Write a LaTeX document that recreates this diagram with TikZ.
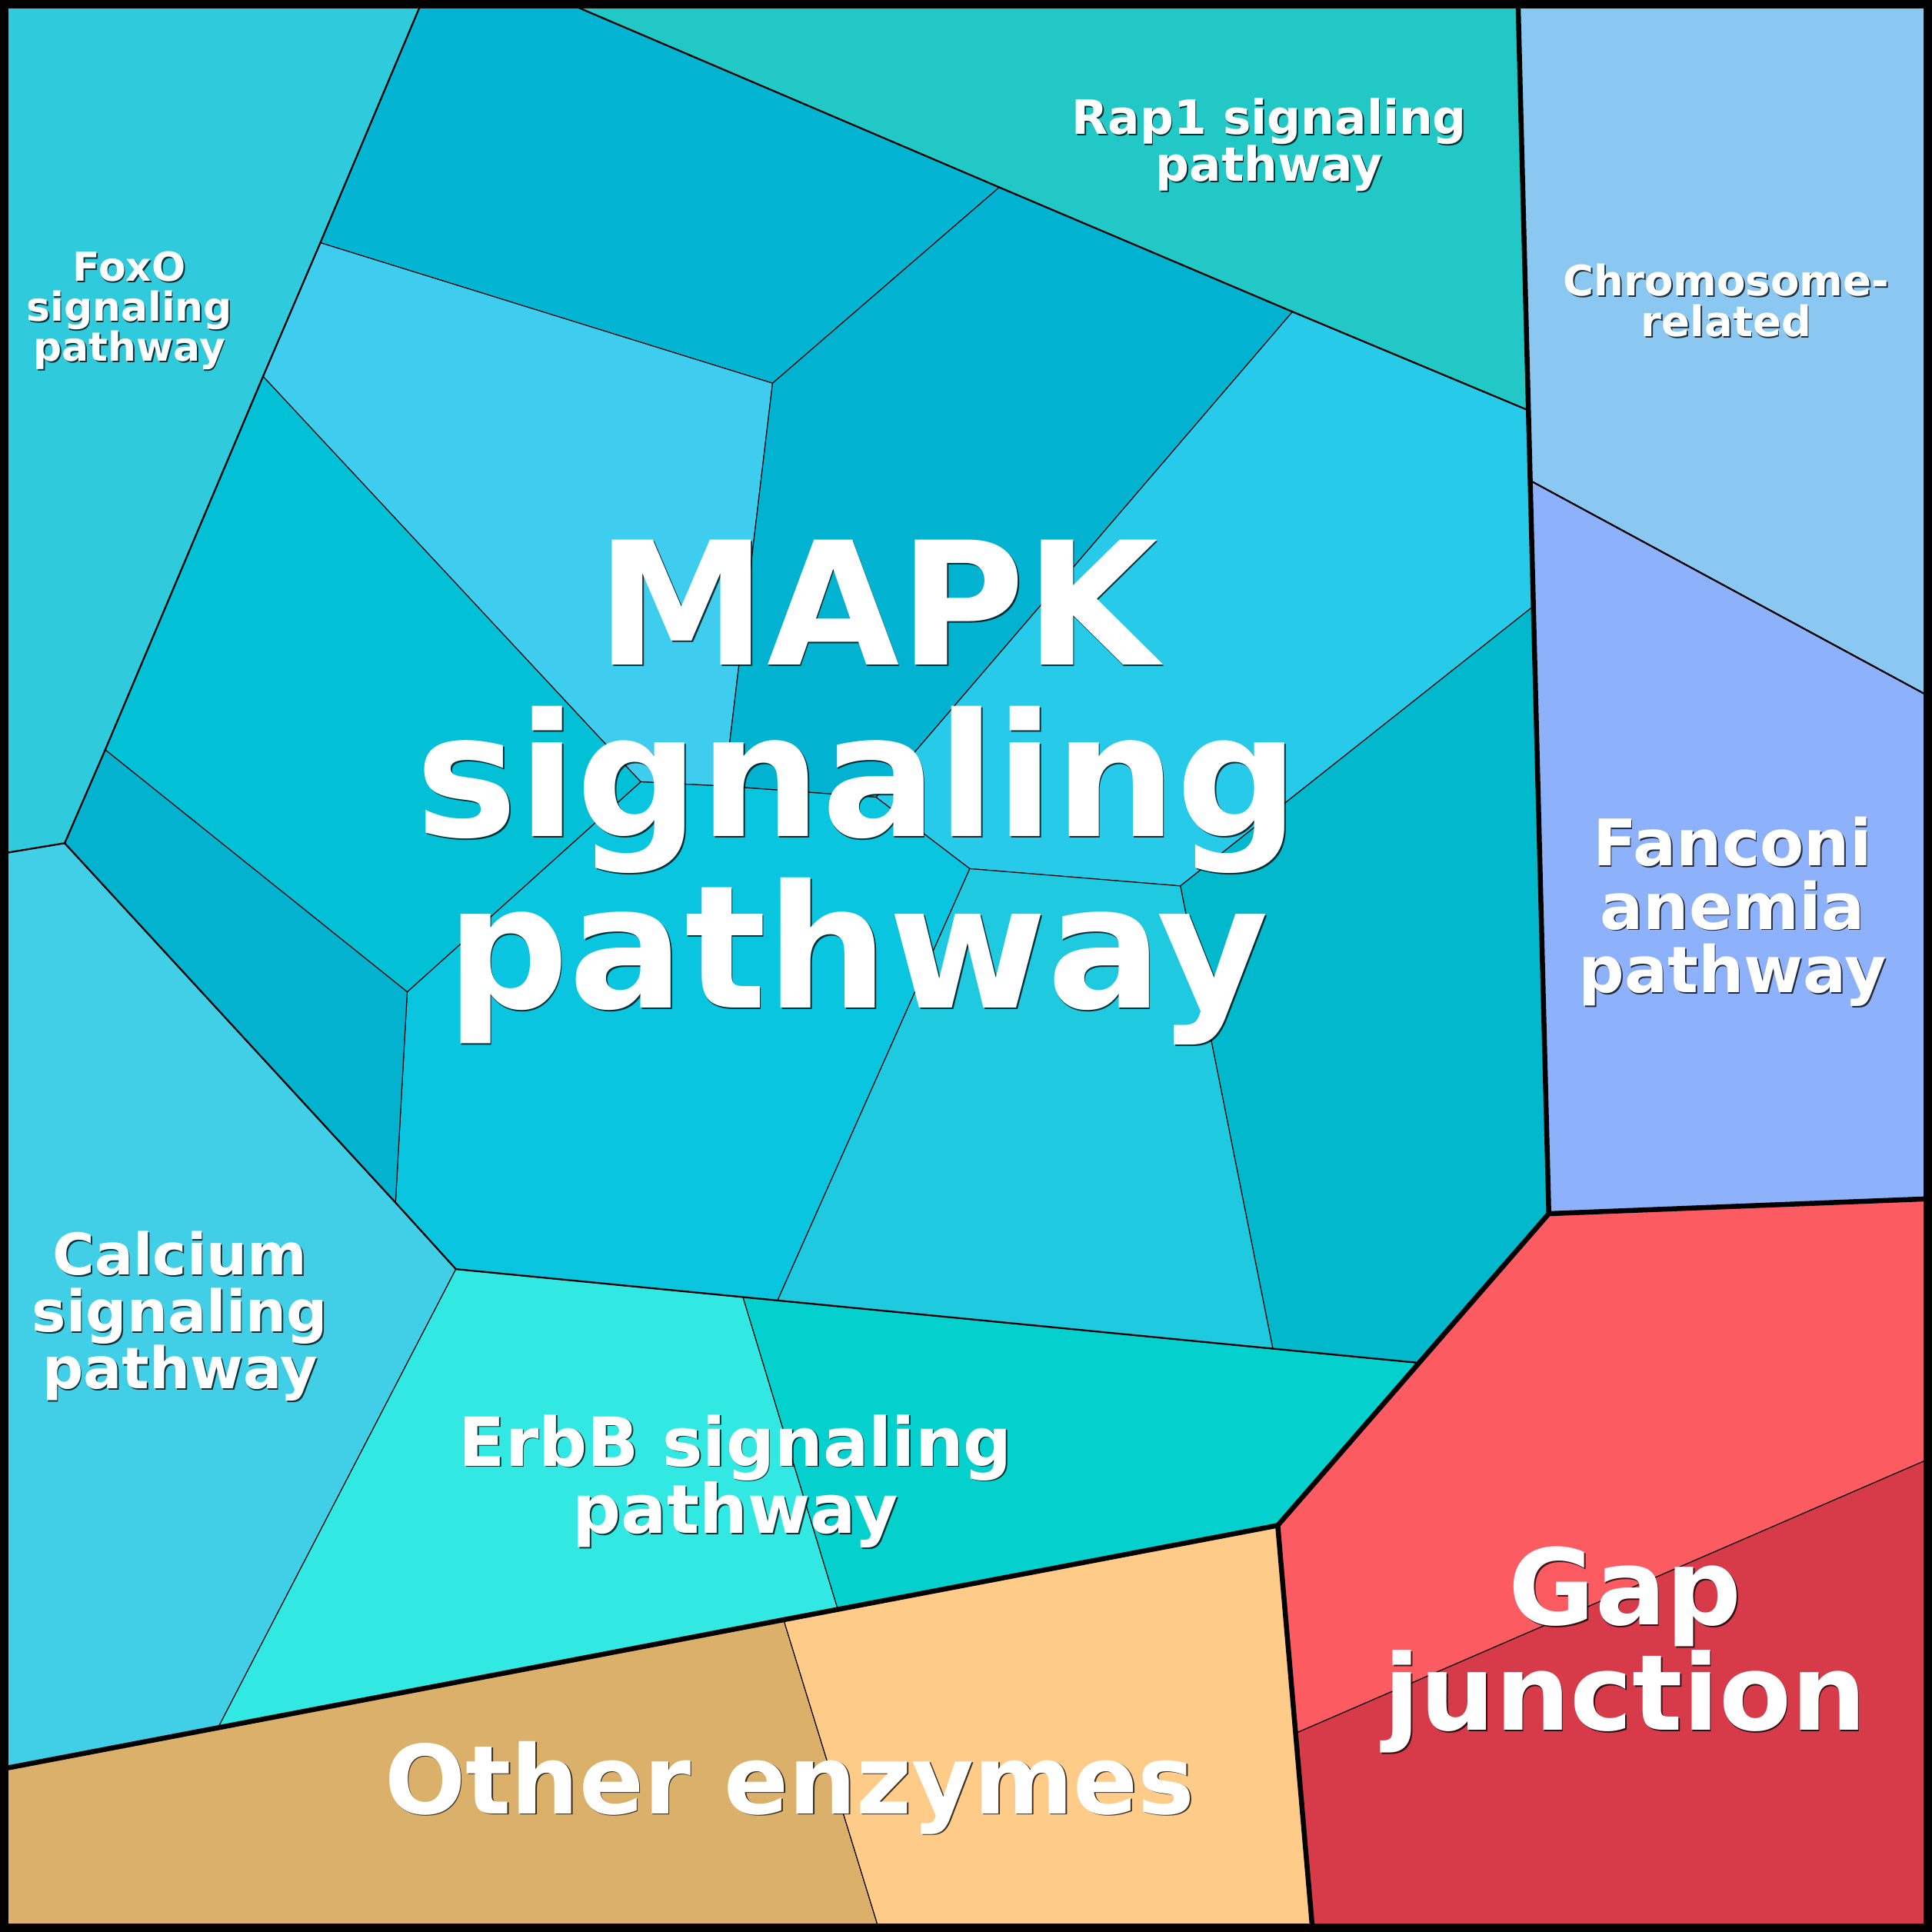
\documentclass[tikz,border=0pt]{standalone}
\usepackage{fontspec}
\setsansfont{DejaVu Sans}

\definecolor{foxo}{HTML}{2FCBDC}
\definecolor{rapone}{HTML}{21C8C6}
\definecolor{chromo}{HTML}{8AC8F2}
\definecolor{fanconi}{HTML}{8EB1FB}
\definecolor{calcium}{HTML}{40CFE6}
\definecolor{erbbA}{HTML}{32E8E2}
\definecolor{erbbB}{HTML}{04D0CD}
\definecolor{gapA}{HTML}{FD5B62}
\definecolor{gapB}{HTML}{D73B49}
\definecolor{enzA}{HTML}{DBB06B}
\definecolor{enzB}{HTML}{FFCB88}
\definecolor{mapkA}{HTML}{03B5D2}
\definecolor{mapkB}{HTML}{3ECDEF}
\definecolor{mapkC}{HTML}{02B2D1}
\definecolor{mapkD}{HTML}{27CBE9}
\definecolor{mapkE}{HTML}{01B8CD}
\definecolor{mapkF}{HTML}{1FC9DF}
\definecolor{mapkG}{HTML}{09C5DF}
\definecolor{mapkH}{HTML}{02C0D5}
\definecolor{mapkI}{HTML}{02B2CF}

\begin{document}
\begin{tikzpicture}[x=0.01cm, y=-0.01cm,
    cell/.style={draw=black, line width=0.2pt, line join=round},
    subedge/.style={draw=black, line width=0.4pt, line join=round},
    groupedge/.style={draw=black, line width=1.15pt, line join=round},
    lbl/.style={inner sep=0pt, align=center, text=white}]
    \useasboundingbox (0,0) rectangle (1568,1568);

    % corners
    \coordinate (tl) at (0,0);
    \coordinate (tr) at (1568,0);
    \coordinate (br) at (1568,1568);
    \coordinate (bl) at (0,1568);
    % FoxO / MAPK edge
    \coordinate (f1) at (343,0);
    \coordinate (f2) at (260,197);
    \coordinate (f3) at (213.5,305.5);
    \coordinate (f4) at (85.4,608.5);
    \coordinate (f5) at (52.5,684.3);
    \coordinate (f6) at (0,693);
    % Rap1 / MAPK edge
    \coordinate (r1) at (455,0);
    \coordinate (r2) at (811,152);
    \coordinate (r3) at (1049,253);
    \coordinate (r4) at (1240.4,333);
    % right group edge
    \coordinate (t3) at (1232,0);
    \coordinate (c1) at (1241.9,390);
    \coordinate (c2) at (1568,566.4);
    \coordinate (b1) at (1244.5,492);
    \coordinate (g1) at (1257,985);
    \coordinate (g2) at (1568,972.8);
    \coordinate (g3) at (1568,1183);
    \coordinate (g4) at (1051.5,1406.7);
    \coordinate (g0) at (1037,1238);
    \coordinate (g5) at (1065.4,1568);
    % bottom group edge
    \coordinate (o1) at (0,1436);
    \coordinate (o2) at (177,1402.2);
    \coordinate (o3) at (636,1314.6);
    \coordinate (o4) at (680,1306.2);
    \coordinate (o5) at (714,1568);
    % Calcium / ErbB / MAPK
    \coordinate (k1) at (321,976);
    \coordinate (k2) at (370,1030);
    \coordinate (e1) at (603,1052.7);
    \coordinate (e2) at (631,1055.4);
    \coordinate (e3) at (1033,1094.6);
    \coordinate (e4) at (1151.7,1106.1);
    % inside MAPK
    \coordinate (m1) at (627,311);
    \coordinate (m2) at (588,638);
    \coordinate (m3) at (520,634.5);
    \coordinate (m4) at (711,647);
    \coordinate (m5) at (787,705);
    \coordinate (m6) at (958,719);
    \coordinate (m7) at (330.5,805);

    % pathways
    \path[cell, fill=foxo] (tl) -- (f1) -- (f2) -- (f3) -- (f4) -- (f5) -- (f6) -- cycle;
    \path[cell, fill=rapone] (r1) -- (t3) -- (r4) -- (r3) -- (r2) -- cycle;
    \path[cell, fill=chromo] (t3) -- (tr) -- (c2) -- (c1) -- (r4) -- cycle;
    \path[cell, fill=fanconi] (c1) -- (c2) -- (g2) -- (g1) -- cycle;
    \path[cell, fill=gapA] (g1) -- (g2) -- (g3) -- (g4) -- (g0) -- cycle;
    \path[cell, fill=gapB] (g4) -- (g3) -- (br) -- (g5) -- cycle;
    \path[cell, fill=enzA] (o1) -- (o3) -- (o5) -- (bl) -- cycle;
    \path[cell, fill=enzB] (o3) -- (g0) -- (g5) -- (o5) -- cycle;
    \path[cell, fill=calcium] (f6) -- (f5) -- (k1) -- (k2) -- (o2) -- (o1) -- cycle;
    \path[cell, fill=erbbA] (k2) -- (e1) -- (o4) -- (o2) -- cycle;
    \path[cell, fill=erbbB] (e1) -- (e4) -- (g0) -- (o4) -- cycle;
    % MAPK cells
    \path[cell, fill=mapkA] (f1) -- (r1) -- (r2) -- (m1) -- (f2) -- cycle;
    \path[cell, fill=mapkB] (f2) -- (m1) -- (m2) -- (m3) -- (f3) -- cycle;
    \path[cell, fill=mapkC] (m1) -- (r2) -- (r3) -- (m4) -- (m2) -- cycle;
    \path[cell, fill=mapkD] (r3) -- (r4) -- (b1) -- (m6) -- (m5) -- (m4) -- cycle;
    \path[cell, fill=mapkE] (b1) -- (g1) -- (e4) -- (e3) -- (m6) -- cycle;
    \path[cell, fill=mapkF] (m5) -- (m6) -- (e3) -- (e2) -- cycle;
    \path[cell, fill=mapkG] (m3) -- (m2) -- (m4) -- (m5) -- (e2) -- (k2) -- (k1) -- (m7) -- cycle;
    \path[cell, fill=mapkH] (f3) -- (m3) -- (m7) -- (f4) -- cycle;
    \path[cell, fill=mapkI] (f4) -- (m7) -- (k1) -- (f5) -- cycle;

    % pathway borders
    \draw[subedge] (f1) -- (f2) -- (f3) -- (f4) -- (f5) -- (k1) -- (k2) -- (e4);
    \draw[subedge] (f6) -- (f5);
    \draw[subedge] (r1) -- (r2) -- (r3) -- (r4);
    \draw[subedge] (c1) -- (c2);
    % group borders
    \draw[groupedge] (t3) -- (g1) -- (g0) -- (o1);
    \draw[groupedge] (g1) -- (g2);
    \draw[groupedge] (g0) -- (g5);
    \draw[line width=0.07cm] (3.5,3.5) rectangle (1564.5,1564.5);

    % labels, dark copy first
    \foreach \nm/\x/\y/\fs/\bs/\txt in {
        mapk/696/643.2/39.55/39.6/{\hspace*{0.23em}MAPK\\signaling\\pathway},
        rap/1030/117.8/10.9/10.84/{Rap1 signaling\\pathway},
        foxo/105/252/9.22/9.22/{FoxO\\signaling\\pathway},
        chromo/1401/244/9.67/9.5/{Chromosome-\\related},
        fanconi/1406/740/14.8/14.68/{Fanconi\\anemia\\pathway},
        calcium/146/1068.2/13.23/13.15/{Calcium\\signaling\\pathway},
        erbb/597/1202.2/15.65/15.56/{ErbB signaling\\pathway},
        gap/1319/1339/24.3/24.4/{Gap\\junction},
        enz/641/1451/22/22/{Other enzymes}}
    {
        \node[lbl, text=black, opacity=0.75, xshift=0.3pt, yshift=-0.3pt,
            font=\sffamily\bfseries\fontsize{\fs}{\bs}\selectfont] (\nm-shadow) at (\x,\y) {\txt};
        \node[lbl, font=\sffamily\bfseries\fontsize{\fs}{\bs}\selectfont] (\nm) at (\x,\y) {\txt};
    }
\end{tikzpicture}
\end{document}
